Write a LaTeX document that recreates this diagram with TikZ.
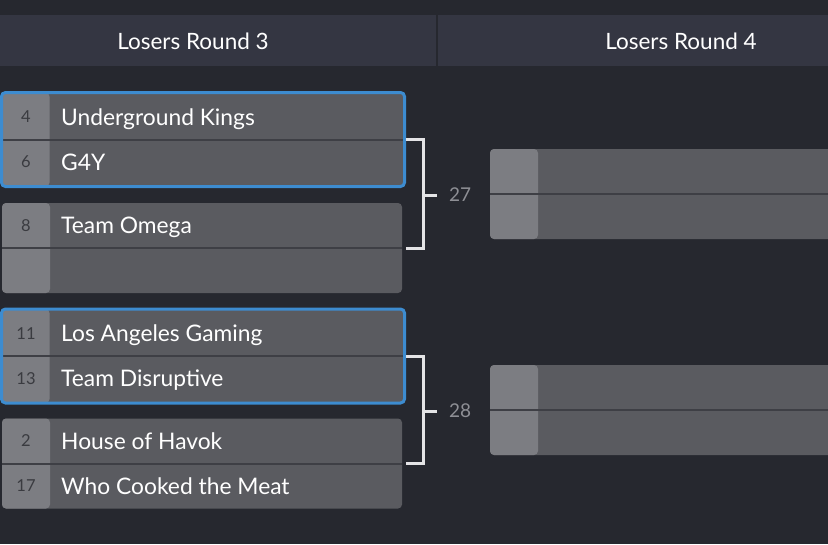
\documentclass[tikz,border=0pt]{standalone}
\usepackage{fontspec}
\setmainfont{Lato}
\usetikzlibrary{positioning}

\definecolor{bggray}{HTML}{26282F}
\definecolor{headgray}{HTML}{343642}
\definecolor{namegray}{HTML}{5A5B60}
\definecolor{seedgray}{HTML}{7C7D82}
\definecolor{rulegray}{HTML}{3E3F45}
\definecolor{pickblue}{HTML}{3D8CD0}
\definecolor{seedtext}{HTML}{3A3B40}
\definecolor{numgray}{HTML}{8E8F95}
\definecolor{bracketwhite}{HTML}{E4E4E6}

\tikzset{
	matchbox/.style={rectangle, rounded corners=4pt, fill=namegray,
		minimum width=400pt, minimum height=90pt, inner sep=0pt, outer sep=0pt,
		path picture={
			\fill[seedgray] (path picture bounding box.north west) rectangle
			([xshift=48pt]path picture bounding box.south west);
			\draw[rulegray, line width=2pt] (path picture bounding box.west)
			-- (path picture bounding box.east);}},
	picked/.style={draw=pickblue, line width=3pt, minimum width=403pt, minimum height=94pt},
	teamname/.style={anchor=base west, inner sep=0pt, text=white,
		font=\fontsize{22.8}{26}\selectfont},
	seednum/.style={inner sep=0pt, text=seedtext, font=\fontsize{16.5}{19}\selectfont},
	roundhead/.style={inner sep=0pt, text=white, font=\fontsize{22.5}{26}\selectfont},
	matchnum/.style={anchor=west, inner sep=0pt, text=numgray, font=\fontsize{19}{22}\selectfont},
	bracket/.style={draw=bracketwhite, line width=3pt}
}

\begin{document}
\begin{tikzpicture}[x=1pt,y=1pt]
	
	\fill[bggray] (0,0) rectangle (828,-544);
	\useasboundingbox (0,0) rectangle (828,-544);
	\clip (0,0) rectangle (828,-544);
	
	% round headers
	\fill[headgray] (0,-15) rectangle (828,-66);
	\draw[bggray, line width=1.5pt] (437,-15) -- (437,-66);
	\node[roundhead] (h3) at (193,-41) {Losers Round 3};
	\node[roundhead] (h4) at (681,-41) {Losers Round 4};
	
	% losers round 3
	\node[matchbox, picked] (m1) at (203,-139.5) {};
	\node[seednum] (s4) at ([xshift=24.5pt,yshift=22.5pt]m1.west) {4};
	\node[teamname] (t4) at ([xshift=59.5pt,yshift=14.5pt]m1.west) {Underground Kings};
	\node[seednum] (s6) at ([xshift=24.5pt,yshift=-22.5pt]m1.west) {6};
	\node[teamname] (t6) at ([xshift=59.5pt,yshift=-30.5pt]m1.west) {G4Y};
	
	\node[matchbox] (m2) at (202,-248) {};
	\node[seednum] (s8) at ([xshift=24pt,yshift=22.5pt]m2.west) {8};
	\node[teamname] (t8) at ([xshift=59pt,yshift=14.5pt]m2.west) {Team Omega};
	
	\node[matchbox, picked] (m3) at (203,-356) {};
	\node[seednum] (s11) at ([xshift=24.5pt,yshift=22.5pt]m3.west) {11};
	\node[teamname] (t11) at ([xshift=59.5pt,yshift=14.5pt]m3.west) {Los Angeles Gaming};
	\node[seednum] (s13) at ([xshift=24.5pt,yshift=-22.5pt]m3.west) {13};
	\node[teamname] (t13) at ([xshift=59.5pt,yshift=-30.5pt]m3.west) {Team Disruptive};
	
	\node[matchbox] (m4) at (202,-463.5) {};
	\node[seednum] (s2) at ([xshift=24pt,yshift=22.5pt]m4.west) {2};
	\node[teamname] (t2) at ([xshift=59pt,yshift=14.5pt]m4.west) {House of Havok};
	\node[seednum] (s17) at ([xshift=24pt,yshift=-22.5pt]m4.west) {17};
	\node[teamname] (t17) at ([xshift=59pt,yshift=-30.5pt]m4.west) {Who Cooked the Meat};
	
	% losers round 4
	\node[matchbox, minimum width=410pt] (r1) at (695,-194) {};
	\node[matchbox, minimum width=410pt] (r2) at (695,-410) {};
	
	% brackets
	\node[matchnum] (l27) at (449,-195) {27};
	\node[matchnum] (l28) at (449,-411) {28};
	\draw[bracket] ([xshift=1.5pt]m1.east) -| ([xshift=21pt]m2.east) -- ([xshift=4pt]m2.east);
	\draw[bracket] ([xshift=21pt]m2.east |- l27.west) -- ([xshift=-12pt]l27.west);
	\draw[bracket] ([xshift=1.5pt]m3.east) -| ([xshift=21pt]m4.east) -- ([xshift=4pt]m4.east);
	\draw[bracket] ([xshift=21pt]m4.east |- l28.west) -- ([xshift=-12pt]l28.west);
	
\end{tikzpicture}
\end{document}
